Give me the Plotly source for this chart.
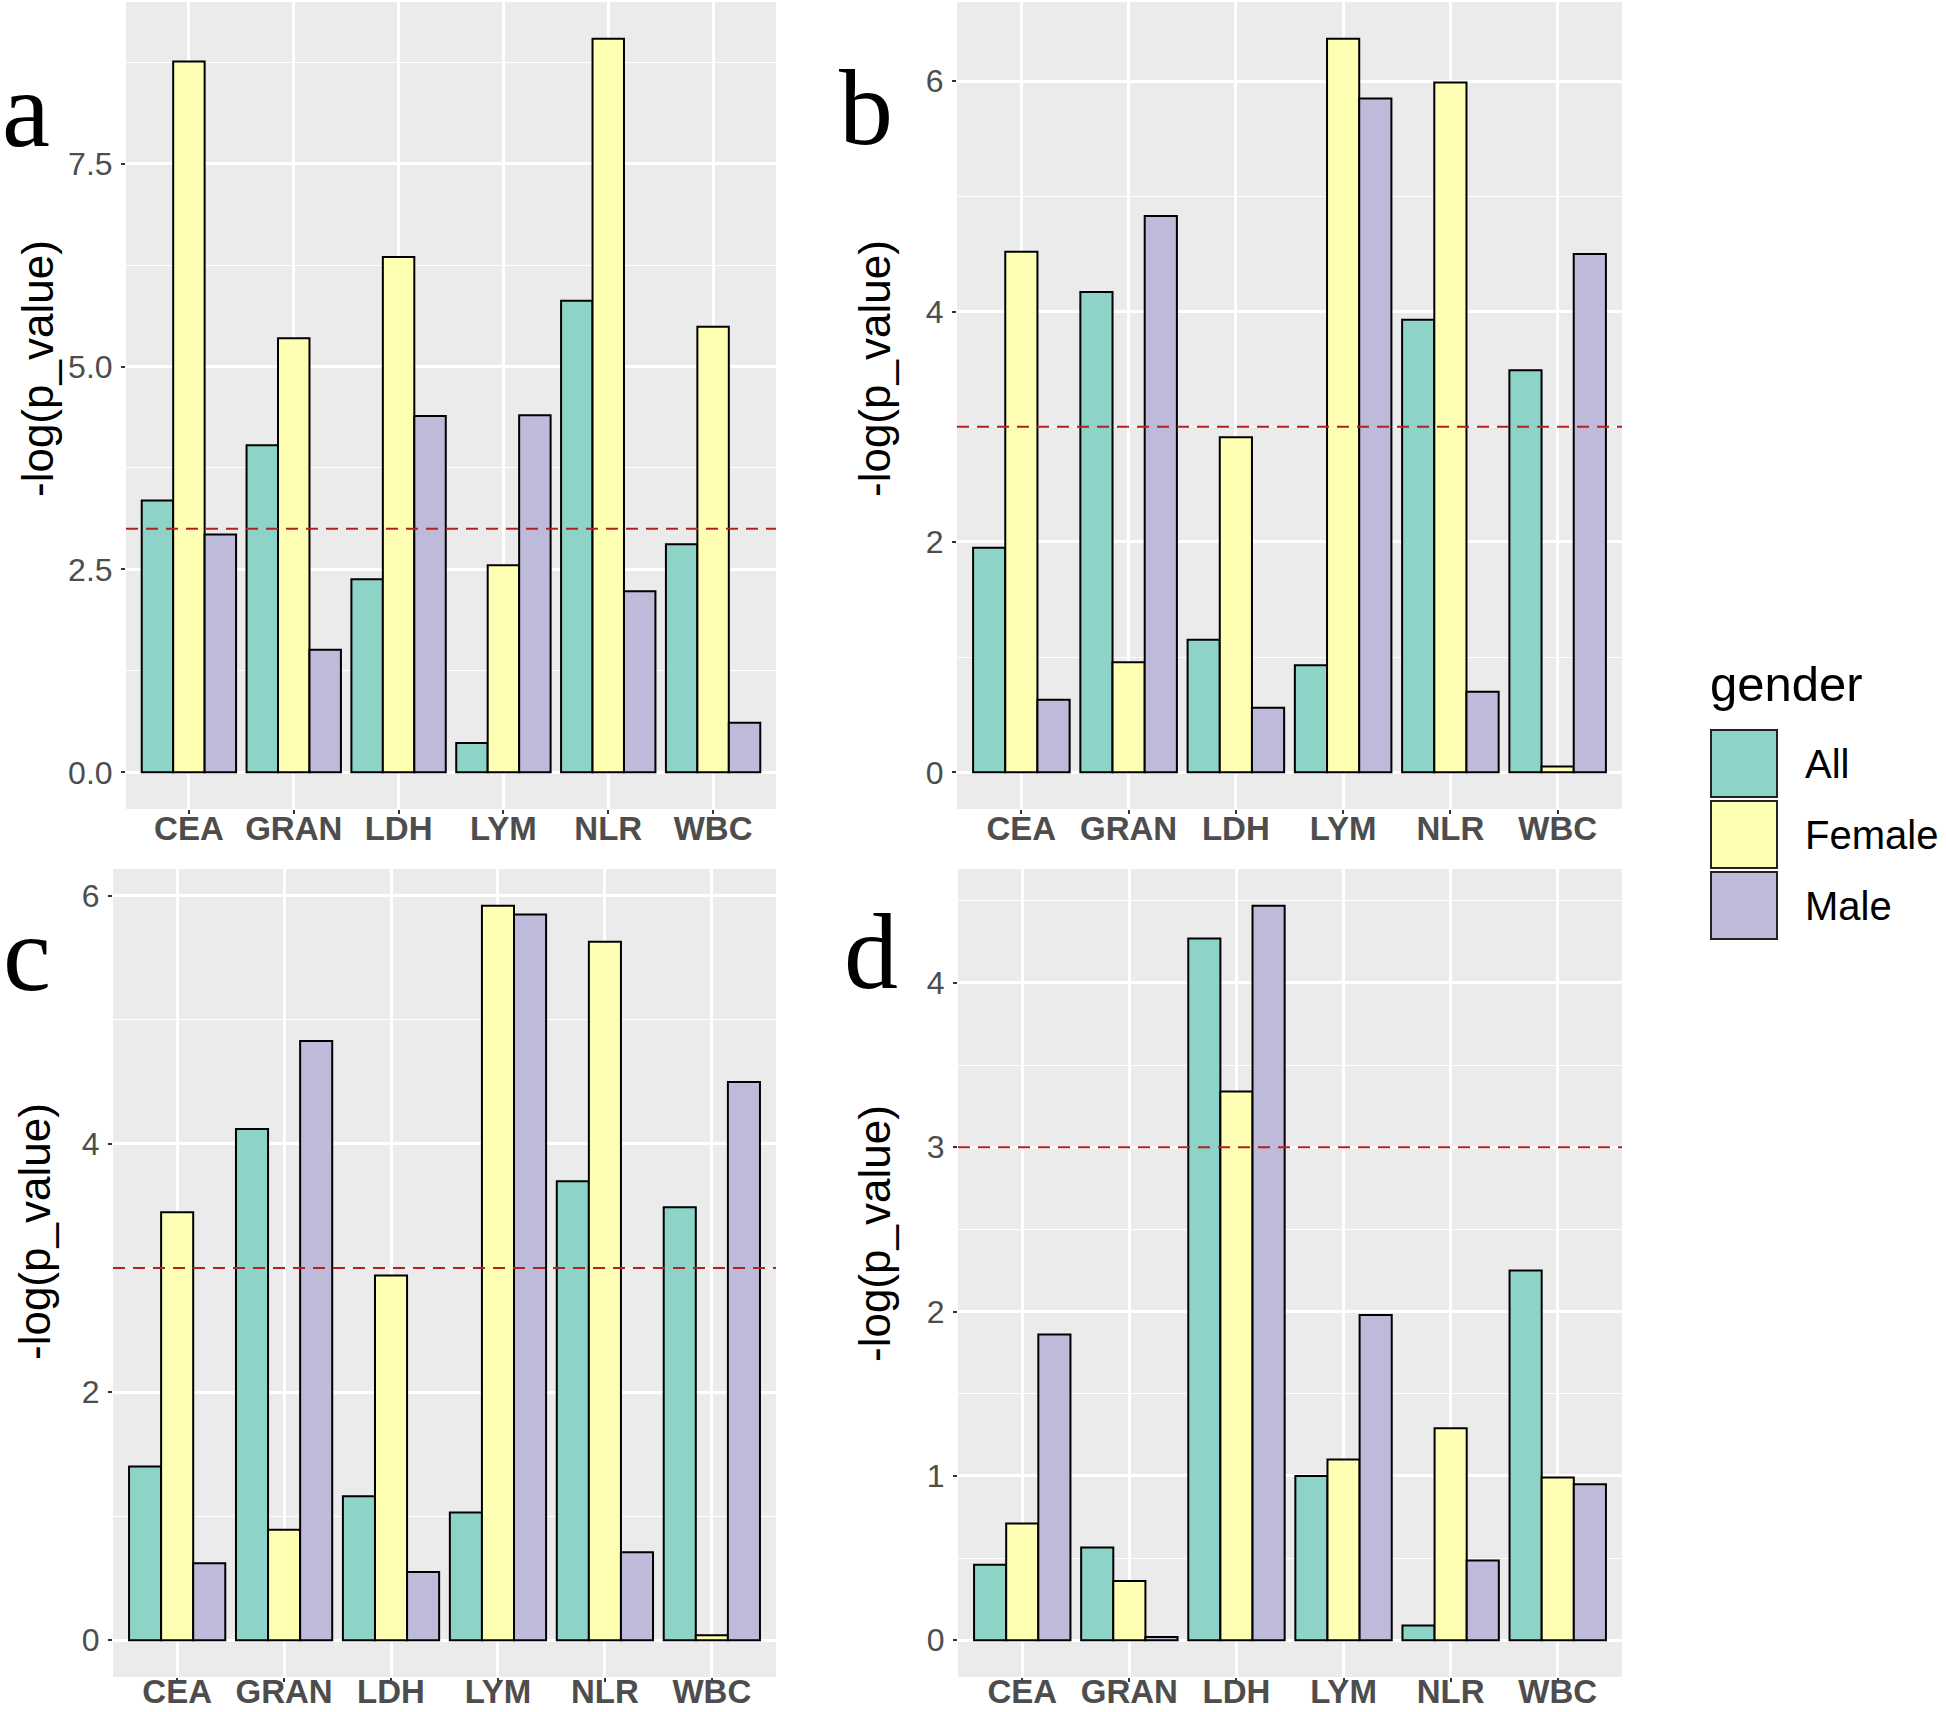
import plotly.graph_objects as go

W, H = 1946, 1712

categories = ["CEA", "GRAN", "LDH", "LYM", "NLR", "WBC"]
genders = ["All", "Female", "Male"]
colors = ["#8DD3C7", "#FFFFB3", "#BEBADA"]

a_all = [3.35, 4.03, 2.38, 0.36, 5.81, 2.81]
a_female = [8.76, 5.35, 6.35, 2.55, 9.04, 5.49]
a_male = [2.93, 1.51, 4.39, 4.40, 2.23, 0.61]

b_all = [1.95, 4.17, 1.15, 0.93, 3.93, 3.49]
b_female = [4.52, 0.955, 2.91, 6.37, 5.99, 0.05]
b_male = [0.63, 4.83, 0.56, 5.85, 0.70, 4.50]

c_all = [1.40, 4.12, 1.16, 1.03, 3.70, 3.49]
c_female = [3.45, 0.89, 2.94, 5.92, 5.63, 0.04]
c_male = [0.62, 4.83, 0.55, 5.85, 0.71, 4.50]

d_all = [0.46, 0.565, 4.27, 1.00, 0.09, 2.25]
d_female = [0.71, 0.36, 3.34, 1.10, 1.29, 0.99]
d_male = [1.86, 0.02, 4.47, 1.98, 0.485, 0.95]

threshold = 3
panel_letters = ["a", "b", "c", "d"]
y_title = "-log(p_value)"

panels = [
    dict(series=[a_all, a_female, a_male], box=(126, 776, 2, 809), dtick=2.5, minor=1.25, fmt=".1f",
         letter=(26, 110), title=(37, 369), xstand=-14),
    dict(series=[b_all, b_female, b_male], box=(957, 1622, 2, 809), dtick=2, minor=1, fmt="d",
         letter=(866, 107), title=(874, 369), xstand=-14),
    dict(series=[c_all, c_female, c_male], box=(113, 776, 869, 1677), dtick=2, minor=1, fmt="d",
         letter=(27, 953), title=(34, 1232), xstand=-19),
    dict(series=[d_all, d_female, d_male], box=(958, 1622, 869, 1677), dtick=1, minor=0.5, fmt="d",
         letter=(871, 951), title=(874, 1234), xstand=-19),
]

fig = go.Figure()
layout = dict(
    width=W, height=H,
    margin=dict(l=0, r=0, t=0, b=0, pad=0),
    paper_bgcolor="white",
    plot_bgcolor="#EBEBEB",
    barmode="group",
    bargap=0.1,
    bargroupgap=0,
    showlegend=False,
    font=dict(family="Liberation Sans, Arial", color="#4D4D4D"),
)
shapes = []
annotations = []

for i, p in enumerate(panels):
    n = "" if i == 0 else str(i + 1)
    xa, ya = "x" + n, "y" + n
    for g, vals, col in zip(genders, p["series"], colors):
        fig.add_trace(go.Bar(
            x=categories, y=vals, name=g, xaxis=xa, yaxis=ya,
            marker=dict(color=col, line=dict(color="black", width=2)),
            showlegend=False,
        ))
    x0, x1, y0, y1 = p["box"]
    m = max(max(s) for s in p["series"])
    layout["xaxis" + n] = dict(
        domain=[x0 / W, x1 / W], anchor=ya, automargin=False,
        type="category", range=[-0.6, 5.6],
        showgrid=True, gridcolor="white", gridwidth=2.5,
        ticks="outside", ticklen=4, tickwidth=1.7, tickcolor="#333333",
        tickfont=dict(size=33, color="#4D4D4D", family="Liberation Sans, Arial", weight="bold"),
        ticklabelstandoff=p["xstand"],
        showline=False, zeroline=False, fixedrange=True,
    )
    layout["yaxis" + n] = dict(
        domain=[1 - y1 / H, 1 - y0 / H], anchor=xa, automargin=False,
        range=[-0.05 * m, 1.05 * m],
        tick0=0, dtick=p["dtick"], tickformat=p["fmt"],
        showgrid=True, gridcolor="white", gridwidth=2.5,
        minor=dict(tick0=0, dtick=p["minor"], showgrid=True, gridcolor="white", gridwidth=1.2, ticklen=0),
        ticks="outside", ticklen=4, tickwidth=1.7, tickcolor="#333333",
        tickfont=dict(size=32, color="#4D4D4D", family="Liberation Sans, Arial"),
        ticklabelstandoff=2,
        showline=False, zeroline=False, fixedrange=True,
    )
    shapes.append(dict(
        type="line", xref=xa + " domain", yref=ya, x0=0, x1=1, y0=threshold, y1=threshold,
        line=dict(color="#B22222", width=2, dash="12px,8px"), layer="above",
    ))
    lx, ly = p["letter"]
    annotations.append(dict(
        text=panel_letters[i], xref="paper", yref="paper", x=lx / W, y=1 - ly / H,
        xanchor="center", yanchor="middle", showarrow=False,
        font=dict(family="Liberation Serif, Times New Roman", size=108, color="black"),
    ))
    tx, ty = p["title"]
    annotations.append(dict(
        text=y_title, xref="paper", yref="paper", x=tx / W, y=1 - ty / H,
        xanchor="center", yanchor="middle", showarrow=False, textangle=-90,
        font=dict(family="Liberation Sans, Arial", size=44, color="black"),
    ))

# legend (drawn manually to match key size)
annotations.append(dict(
    text="gender", xref="paper", yref="paper", x=1708 / W, y=1 - 684 / H,
    xanchor="left", yanchor="middle", showarrow=False,
    font=dict(family="Liberation Sans, Arial", size=49, color="black"),
))
key_tops = [730, 801, 872]
for g, col, kt in zip(genders, colors, key_tops):
    shapes.append(dict(
        type="rect", xref="paper", yref="paper",
        x0=1711 / W, x1=1777 / W, y0=1 - (kt + 67) / H, y1=1 - kt / H,
        fillcolor=col, line=dict(color="#222222", width=2),
    ))
    annotations.append(dict(
        text=g, xref="paper", yref="paper", x=1803 / W, y=1 - (kt + 34) / H,
        xanchor="left", yanchor="middle", showarrow=False,
        font=dict(family="Liberation Sans, Arial", size=40, color="black"),
    ))

layout["shapes"] = shapes
layout["annotations"] = annotations
fig.update_layout(**layout)
fig.write_html(
    "out.html",
    config={"displayModeBar": False},
    post_script="document.body.style.margin='0px';document.body.style.overflow='hidden';",
)
